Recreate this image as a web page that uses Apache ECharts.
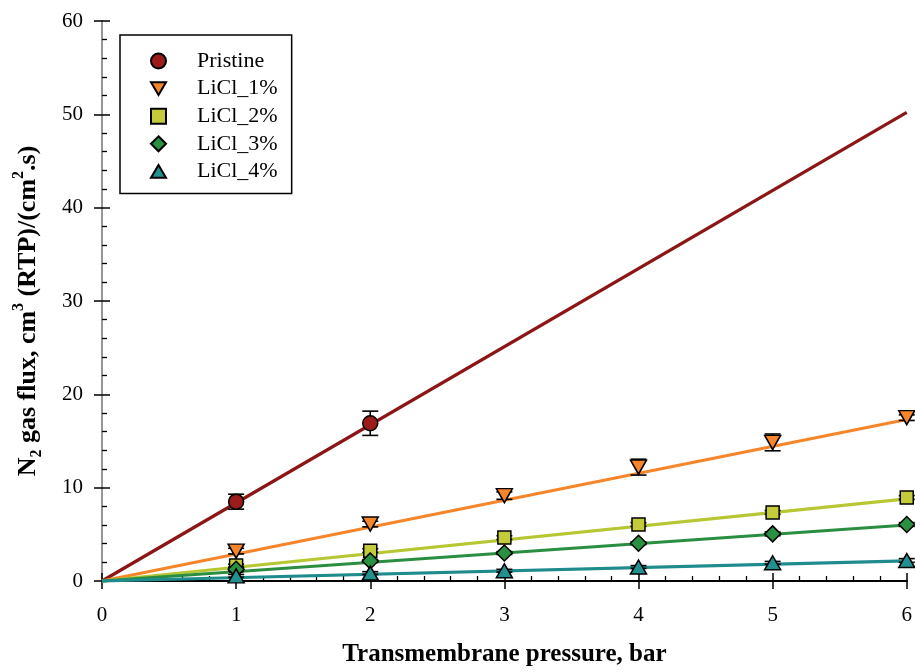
<!DOCTYPE html>
<html>
<head>
<meta charset="utf-8">
<script src="https://cdn.jsdelivr.net/npm/echarts@6/dist/echarts.min.js"></script>
<style>html,body{margin:0;padding:0;background:#fff;}#c{width:915px;height:672px;}</style>
</head>
<body>
<div id="c"></div>
<script>
// ---- data ----
const xPristine = [1, 2];
const yPristine = [8.5, 16.9];
const ePristine = [0.8, 1.3];
const xLiCl = [1, 2, 3, 4, 5, 6];
const yLiCl1 = [3.2, 6.1, 9.15, 12.2, 14.85, 17.5];
const eLiCl1 = [0.3, 0.3, 0.4, 0.85, 0.9, 0.3];
const yLiCl2 = [1.65, 3.25, 4.65, 6.05, 7.35, 8.95];
const eLiCl2 = [0.15, 0.2, 0.2, 0.2, 0.2, 0.2];
const yLiCl3 = [1.25, 2.15, 3.0, 4.05, 5.05, 6.05];
const eLiCl3 = [0.15, 0.15, 0.15, 0.15, 0.2, 0.2];
const yLiCl4 = [0.55, 0.85, 1.1, 1.5, 1.95, 2.2];
const eLiCl4 = [0.15, 0.15, 0.15, 0.15, 0.15, 0.2];
// fitted lines through origin: value at x = 6
const fitX = [0, 6];
const fitPristine = [0, 50.2];
const fitLiCl1 = [0, 17.3];
const fitLiCl2 = [0, 8.8];
const fitLiCl3 = [0, 6.0];
const fitLiCl4 = [0, 2.15];
const names = ['Pristine', 'LiCl_1%', 'LiCl_2%', 'LiCl_3%', 'LiCl_4%'];
const xTicks = [0, 1, 2, 3, 4, 5, 6];
const yTicks = [0, 10, 20, 30, 40, 50, 60];

const FONT = 'Liberation Serif';
const pts = (xs, ys) => xs.map((x, i) => [x, ys[i]]);
const errs = (xs, ys, es) => xs.map((x, i) => [x, ys[i] - es[i], ys[i] + es[i]]);

function renderErr(params, api) {
  const x = api.value(0), lo = api.value(1), hi = api.value(2);
  const a = api.coord([x, lo]), b = api.coord([x, hi]);
  const w = 8;
  const st = { stroke: '#000', lineWidth: 1.6 };
  return { type: 'group', children: [
    { type: 'line', shape: { x1: a[0], y1: a[1], x2: b[0], y2: b[1] }, style: st },
    { type: 'line', shape: { x1: a[0] - w, y1: a[1], x2: a[0] + w, y2: a[1] }, style: st },
    { type: 'line', shape: { x1: b[0] - w, y1: b[1], x2: b[0] + w, y2: b[1] }, style: st }
  ]};
}

const cols = {
  pLine: '#8C1616', pFill: '#9C1C1C',
  l1Line: '#F7862B', l1Fill: '#F7862B',
  l2Line: '#B7C733', l2Fill: '#C3CB3A',
  l3Line: '#2A8E40', l3Fill: '#2A9042',
  l4Line: '#1F8B8D', l4Fill: '#21908F'
};

function fitSeries(name, ys, color) {
  return { type: 'line', name: name + ' fit', data: pts(fitX, ys), symbol: 'none', clip: false,
    lineStyle: { color: color, width: 3.2 }, z: 2, silent: true };
}
function errSeries(name, xs, ys, es) {
  return { type: 'custom', name: name + ' err', renderItem: renderErr, data: errs(xs, ys, es),
    encode: { x: 0, y: [1, 2] }, clip: false, z: 3, silent: true };
}
function ptSeries(name, xs, ys, symbol, size, fill) {
  return { type: 'scatter', name: name, data: pts(xs, ys), symbol: symbol, symbolSize: size, clip: false,
    itemStyle: { color: fill, borderColor: '#000', borderWidth: 1.5, opacity: 1 }, z: 4 };
}

const downTri = 'path://M0,0 L20,0 L10,17 Z';
const upTri = 'path://M10,0 L20,17 L0,17 Z';
const square = 'path://M0,0 L10,0 L10,10 L0,10 Z';
const diamond = 'path://M10,0 L20,10 L10,20 L0,10 Z';

const axisLbl = { color: '#000', fontFamily: FONT, fontSize: 21 };

const option = {
  animation: false,
  backgroundColor: '#fff',
  grid: { left: 102, right: 8, top: 21, bottom: 88, containLabel: false },
  legend: {
    orient: 'vertical', left: 120, top: 35,
    data: names,
    itemWidth: 15, itemHeight: 15, itemGap: 5.6,
    padding: [15, 14, 11, 30],
    borderColor: '#000', borderWidth: 1.5, backgroundColor: '#fff',
    textStyle: { color: '#000', fontFamily: FONT, fontSize: 22, lineHeight: 20, padding: [0, 0, 0, 26] },
    selectedMode: false
  },
  xAxis: [
    { type: 'value', min: 0, max: 6, interval: 1, position: 'bottom',
      axisLine: { show: true, lineStyle: { color: '#000', width: 2 } },
      axisTick: { show: true, inside: false, length: 8, lineStyle: { color: '#000', width: 1.5 } },
      minorTick: { show: false },
      axisLabel: Object.assign({ margin: 24, formatter: v => xTicks.includes(v) ? String(v) : '' }, axisLbl),
      splitLine: { show: false },
      name: 'Transmembrane pressure, bar', nameLocation: 'middle', nameGap: 61,
      nameTextStyle: { color: '#000', fontFamily: FONT, fontSize: 25, fontWeight: 'bold' }
    },
    { type: 'value', min: 0, max: 6, interval: 1, position: 'bottom',
      axisLine: { show: false },
      axisTick: { show: true, inside: true, length: 8, lineStyle: { color: '#000', width: 1.5 } },
      minorTick: { show: true, splitNumber: 5, length: 5, lineStyle: { color: '#000', width: 1.3 } },
      axisLabel: { show: false }, splitLine: { show: false }
    },
    { type: 'value', min: 0, max: 6, interval: 1, position: 'top',
      axisLine: { show: true, lineStyle: { color: '#000', width: 2 } },
      axisTick: { show: false }, axisLabel: { show: false }, splitLine: { show: false }
    }
  ],
  yAxis: [
    { type: 'value', min: 0, max: 60, interval: 10, position: 'left',
      axisLine: { show: true, lineStyle: { color: '#000', width: 2 } },
      axisTick: { show: true, inside: false, length: 8, lineStyle: { color: '#000', width: 1.5 } },
      minorTick: { show: false },
      axisLabel: Object.assign({ margin: 19, formatter: v => yTicks.includes(v) ? String(v) : '' }, axisLbl),
      splitLine: { show: false },
      name: '{b|N}{sub|2}{b| gas flux, cm}{sup|3}{b| (RTP)/(cm}{sup|2}{b|.s)}',
      nameLocation: 'middle', nameGap: 57, nameRotate: 90,
      nameTextStyle: {
        color: '#000', fontFamily: FONT, fontSize: 26, fontWeight: 'bold',
        padding: [0, 20, 0, 0],
        rich: {
          b: { color: '#000', fontFamily: FONT, fontSize: 26, fontWeight: 'bold', lineHeight: 34 },
          sub: { color: '#000', fontFamily: FONT, fontSize: 16, fontWeight: 'bold', verticalAlign: 'bottom', lineHeight: 20 },
          sup: { color: '#000', fontFamily: FONT, fontSize: 16, fontWeight: 'bold', verticalAlign: 'top', lineHeight: 18 }
        }
      }
    },
    { type: 'value', min: 0, max: 60, interval: 10, position: 'left',
      axisLine: { show: false },
      axisTick: { show: true, inside: true, length: 8, lineStyle: { color: '#000', width: 1.5 } },
      minorTick: { show: true, splitNumber: 5, length: 5, lineStyle: { color: '#000', width: 1.3 } },
      axisLabel: { show: false }, splitLine: { show: false }
    },
    { type: 'value', min: 0, max: 60, interval: 10, position: 'right',
      axisLine: { show: true, lineStyle: { color: '#C8C8C8', width: 1.5 } },
      axisTick: { show: false }, axisLabel: { show: false }, splitLine: { show: false }
    }
  ],
  series: [
    fitSeries(names[0], fitPristine, cols.pLine),
    fitSeries(names[1], fitLiCl1, cols.l1Line),
    fitSeries(names[2], fitLiCl2, cols.l2Line),
    fitSeries(names[3], fitLiCl3, cols.l3Line),
    fitSeries(names[4], fitLiCl4, cols.l4Line),
    errSeries(names[0], xPristine, yPristine, ePristine),
    errSeries(names[1], xLiCl, yLiCl1, eLiCl1),
    errSeries(names[2], xLiCl, yLiCl2, eLiCl2),
    errSeries(names[3], xLiCl, yLiCl3, eLiCl3),
    errSeries(names[4], xLiCl, yLiCl4, eLiCl4),
    ptSeries(names[0], xPristine, yPristine, 'circle', 15, cols.pFill),
    ptSeries(names[1], xLiCl, yLiCl1, downTri, [16, 14], cols.l1Fill),
    ptSeries(names[2], xLiCl, yLiCl2, square, 13, cols.l2Fill),
    ptSeries(names[3], xLiCl, yLiCl3, diamond, 16, cols.l3Fill),
    ptSeries(names[4], xLiCl, yLiCl4, upTri, [16, 14], cols.l4Fill)
  ]
};

const chart = echarts.init(document.getElementById('c'), null, { renderer: 'canvas' });
chart.setOption(option);
</script>
</body>
</html>
